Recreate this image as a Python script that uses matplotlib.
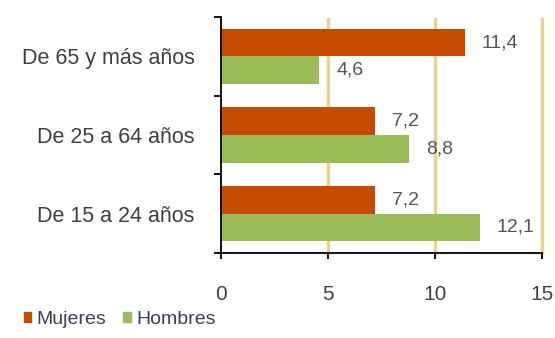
import matplotlib
matplotlib.use("Agg")
import matplotlib.pyplot as plt
from matplotlib.patches import Patch

categories = ["De 15 a 24 años", "De 25 a 64 años", "De 65 y más años"]
mujeres = [7.2, 7.2, 11.4]
hombres = [12.1, 8.8, 4.6]
series_names = ["Mujeres", "Hombres"]
x_ticks = [0, 5, 10, 15]

c_muj = "#C54B00"
c_hom = "#9BBB59"
c_grid = "#E6D38E"
c_text = "#404040"

plt.rcParams['font.family'] = ['Liberation Sans', 'DejaVu Sans']

fig = plt.figure(figsize=(5.55, 3.38), dpi=100)
ax = fig.add_axes([221/555, 1-253/338, (542-221)/555, (253-17)/338])

h = 0.35
centers = [i + 0.5 for i in range(len(categories))]
ax.barh([c + h/2 for c in centers], mujeres, height=h, color=c_muj, zorder=3)
ax.barh([c - h/2 for c in centers], hombres, height=h, color=c_hom, zorder=3)

def fmt(v):
    return f"{v:.1f}".replace(".", ",")

for c, v in zip(centers, mujeres):
    ax.annotate(fmt(v), (v, c + h/2), xytext=(12, 0), textcoords="offset points",
                ha="left", va="center", fontsize=14, color="#555555")
for c, v in zip(centers, hombres):
    ax.annotate(fmt(v), (v, c - h/2), xytext=(12, 0), textcoords="offset points",
                ha="left", va="center", fontsize=14, color="#555555")

ax.set_xlim(0, 15)
ax.set_ylim(0, 3)
ax.set_xticks(x_ticks)
ax.set_xticklabels([str(t) for t in x_ticks], fontsize=15, color=c_text)
for t in x_ticks[1:]:
    ax.axvline(t, color=c_grid, lw=2.5, zorder=1, ymax=0.99, clip_on=False)

ax.set_yticks([0, 1, 2, 3])
ax.set_yticklabels([])
ax.set_yticks(centers, minor=True)
ax.set_yticklabels(categories, minor=True, fontsize=15.5, color=c_text)
ax.tick_params(axis='y', which='major', direction='out', length=5, width=1.3, color='black')
ax.tick_params(axis='y', which='minor', length=0, pad=19)
ax.tick_params(axis='x', direction='out', length=4, width=1.3, color='black', pad=19)

for s in ['top', 'right']:
    ax.spines[s].set_visible(False)
for s in ['left', 'bottom']:
    ax.spines[s].set_linewidth(1.3)
    ax.spines[s].set_color('black')
    ax.spines[s].set_zorder(4)

handles = [Patch(color=c_muj), Patch(color=c_hom)]
fig.legend(handles, series_names, loc='lower left', bbox_to_anchor=(0.025, 0.0),
           ncol=2, frameon=False, fontsize=14, handlelength=0.4, handleheight=0.4,
           handletextpad=0.25, columnspacing=0.9, labelcolor="#3a3f58",
           borderaxespad=0.1)

fig.savefig("out.png", dpi=100)
